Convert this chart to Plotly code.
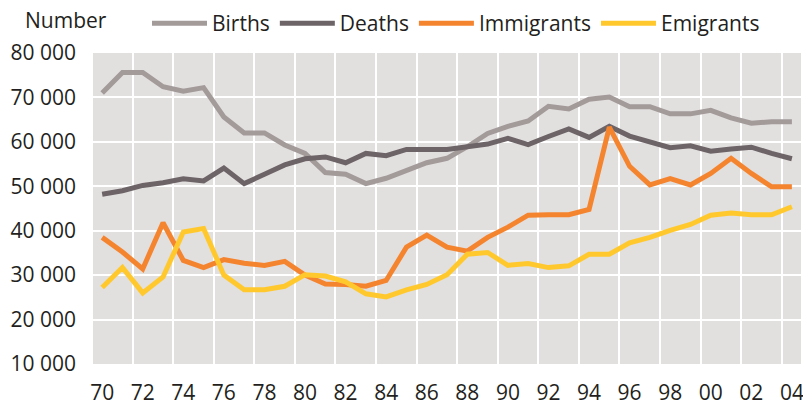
import plotly.graph_objects as go

years = list(range(1970, 2005))

births = [71000, 75600, 75600, 72400, 71400, 72200, 65600, 62000, 62000, 59300,
          57400, 53100, 52700, 50600, 51800, 53500, 55300, 56300, 58900, 61900,
          63500, 64700, 68000, 67400, 69600, 70100, 67900, 67900, 66300, 66300,
          67100, 65400, 64200, 64500, 64500]
deaths = [48200, 49000, 50200, 50800, 51700, 51200, 54100, 50600, 52700, 54800,
          56200, 56600, 55300, 57400, 56900, 58300, 58300, 58300, 58900, 59500,
          60800, 59400, 61200, 62900, 61000, 63500, 61300, 60000, 58700, 59100,
          57900, 58400, 58800, 57400, 56200]
immigrants = [38500, 35200, 31400, 41800, 33300, 31700, 33500, 32700, 32200, 33100,
              30000, 28000, 27900, 27500, 28800, 36300, 39000, 36300, 35400, 38500,
              40800, 43500, 43600, 43600, 44800, 63300, 54500, 50300, 51700, 50300,
              52900, 56300, 52900, 49900, 49900]
emigrants = [27200, 31700, 26000, 29600, 39700, 40500, 30000, 26700, 26700, 27500,
             30100, 29800, 28500, 25800, 25100, 26700, 27900, 30100, 34700, 35100,
             32200, 32600, 31700, 32100, 34700, 34700, 37300, 38500, 40100, 41400,
             43500, 44000, 43600, 43600, 45400]

y_tick_vals = [10000, 20000, 30000, 40000, 50000, 60000, 70000, 80000]
y_tick_text = ["10 000", "20 000", "30 000", "40 000", "50 000", "60 000", "70 000", "80 000"]

series = [
    ("Births", births, "#A39A9A"),
    ("Deaths", deaths, "#6D6467"),
    ("Immigrants", immigrants, "#F5842F"),
    ("Emigrants", emigrants, "#FFC92E"),
]

FONT = "Open Sans"
TXT = "#231F20"
FS = 21

L, R, T, B = 93, 2, 53, 40
PW, PH = 803 - L - R, 404 - T - B

x_dates = [f"{y}-01-01" for y in years]

fig = go.Figure()
for name, vals, col in series:
    fig.add_trace(go.Scatter(x=x_dates, y=vals, name=name, mode="lines",
                             line=dict(color=col, width=5)))

fig.update_layout(
    width=803, height=404,
    margin=dict(l=L, r=R, t=T, b=B),
    paper_bgcolor="white",
    plot_bgcolor="#E2DFDF",
    font=dict(family=FONT, size=FS, color=TXT),
    showlegend=True,
    legend=dict(orientation="h", xref="paper", yref="paper",
                x=(147 - L) / PW, y=1 + (T - 3) / PH, xanchor="left", yanchor="top",
                font=dict(family=FONT, size=FS, color=TXT),
                itemwidth=55, bgcolor="rgba(0,0,0,0)",
                tracegroupgap=0),
    xaxis=dict(type="date", range=["1969-07-20", "2004-06-13"],
               tickmode="linear", tick0="1970-01-01", dtick="M24", tickformat="%y",
               showgrid=False, zeroline=False, showline=False, ticks="",
               automargin=False,
               ticklabelstandoff=14, ticklabeloverflow="allow",
               tickfont=dict(family=FONT, size=FS, color=TXT),
               minor=dict(tickmode="linear", tick0="1971-07-02", dtick="M24",
                          showgrid=True, gridcolor="white", gridwidth=2, ticks="")),
    yaxis=dict(range=[10000, 80000], tickvals=y_tick_vals, ticktext=y_tick_text,
               showgrid=True, gridcolor="white", gridwidth=2, zeroline=False,
               showline=False, ticks="", ticklabelstandoff=16, automargin=False,
               tickfont=dict(family=FONT, size=FS, color=TXT)),
    annotations=[dict(text="Number", xref="paper", yref="paper",
                      x=(23 - L) / PW, y=1 + 33 / PH, xanchor="left", yanchor="middle",
                      showarrow=False,
                      font=dict(family=FONT, size=FS, color=TXT))],
)

fig.write_html("out.html", config={"displayModeBar": False},
               post_script="document.body.style.margin='0';document.body.style.overflow='hidden';")
